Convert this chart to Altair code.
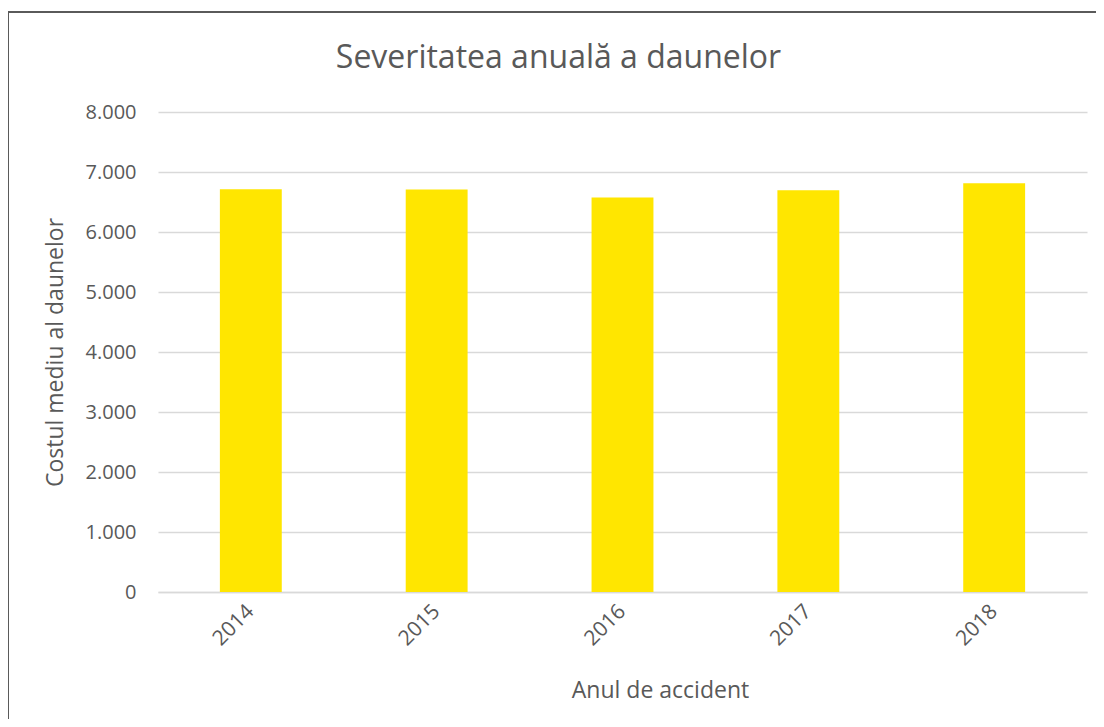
import altair as alt
import pandas as pd

years = ["2014", "2015", "2016", "2017", "2018"]
severity = [6712, 6707, 6573, 6695, 6812]

df = pd.DataFrame({"year": years, "value": severity})

TEXT = "#595959"
FONT = "Open Sans"

bars = alt.Chart(df).mark_bar(color="#FFE600").encode(
    x=alt.X(
        "year:N",
        sort=years,
        scale=alt.Scale(paddingInner=0.667, paddingOuter=0.333),
        axis=alt.Axis(
            title="Anul de accident",
            labelAngle=-45,
            labelAlign="right",
            labelBaseline="middle",
            labelPadding=16,
            labelFontSize=21,
            labelColor=TEXT,
            labelFont=FONT,
            ticks=False,
            grid=False,
            domainColor="#D9D9D9",
            domainWidth=1.5,
            titleFontSize=23,
            titleFontWeight="normal",
            titleColor=TEXT,
            titleFont=FONT,
            titleX=502,
            titleY=105,
            titleBaseline="alphabetic",
            titleAlign="center",
        ),
    ),
    y=alt.Y(
        "value:Q",
        scale=alt.Scale(domain=[0, 8000], nice=False),
        axis=alt.Axis(
            title="Costul mediu al daunelor",
            values=[0, 1000, 2000, 3000, 4000, 5000, 6000, 7000, 8000],
            labelExpr="replace(format(datum.value, ',d'), ',', '.')",
            labelFontSize=20,
            labelColor=TEXT,
            labelFont=FONT,
            labelPadding=22,
            ticks=False,
            domain=False,
            gridColor="#D9D9D9",
            gridWidth=1.5,
            titleFontSize=23,
            titleFontWeight="normal",
            titleColor=TEXT,
            titleFont=FONT,
            titleX=-103,
            titleBaseline="middle",
        ),
    ),
)

border = alt.Chart(df).mark_rect(
    fill=None, stroke="#5A5A5A", strokeWidth=2, clip=False
).encode(
    x=alt.value(-150), x2=alt.value(1000), y=alt.value(-100), y2=alt.value(700)
)

chart = alt.layer(bars, border).properties(
    width=929,
    height=480,
    autosize=alt.AutoSizeParams(type="none"),
    padding={"left": 150, "top": 104, "right": 9, "bottom": 127},
    title=alt.TitleParams(
        "Severitatea anuală a daunelor",
        fontSize=32,
        fontWeight="normal",
        font=FONT,
        color=TEXT,
        anchor="middle",
        frame="group",
        dx=-64,
        offset=-89,
        baseline="alphabetic",
    ),
).configure(background="white").configure_view(strokeWidth=0)

chart.save("out.html", embed_options={"renderer": "svg", "actions": False})
